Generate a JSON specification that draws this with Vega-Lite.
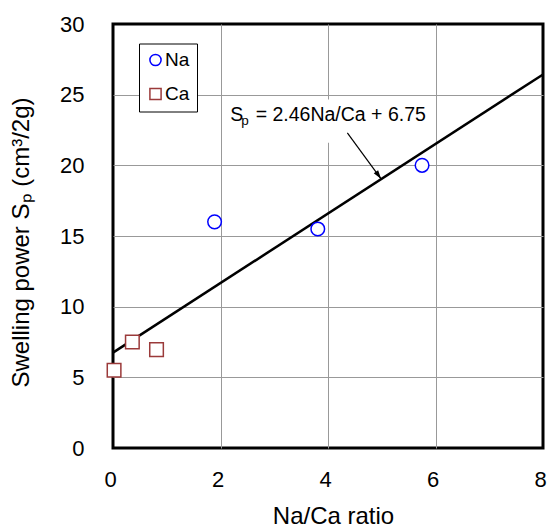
{
  "$schema": "https://vega.github.io/schema/vega-lite/v6.json",
  "width": 430,
  "height": 424,
  "autosize": {"type": "none"},
  "padding": {"left": 113, "top": 24, "right": 5, "bottom": 80},
  "background": "white",
  "config": {
    "font": "Liberation Sans",
    "view": {"stroke": "black", "strokeWidth": 3},
    "legend": {
      "orient": "none",
      "legendX": 26,
      "legendY": 19.5,
      "fillColor": "white",
      "strokeColor": "black",
      "strokeWidth": 1,
      "padding": 7,
      "rowPadding": 14,
      "labelFontSize": 19,
      "labelFont": "Liberation Sans",
      "labelColor": "black",
      "labelOffset": 0,
      "symbolSize": 125,
      "symbolStrokeWidth": 1.5,
      "symbolFillColor": "white"
    }
  },
  "datasets": {
    "points": [
      {"x": 1.89, "y": 16.0, "ion": "Na"},
      {"x": 3.81, "y": 15.5, "ion": "Na"},
      {"x": 5.75, "y": 20.0, "ion": "Na"},
      {"x": 0.02, "y": 5.5, "ion": "Ca"},
      {"x": 0.36, "y": 7.5, "ion": "Ca"},
      {"x": 0.81, "y": 6.96, "ion": "Ca"}
    ],
    "fit": [{"x": 0, "y": 6.75}, {"x": 8, "y": 26.43}],
    "arrow": [{"x": 4.36, "y": 22.29, "x2": 4.99, "y2": 19.03}],
    "tip": [{"x": 4.99, "y": 19.03}],
    "label": [{"x": 2.18, "y": 23.11}],
    "box": [{"x": 2.07, "x2": 5.89, "y": 24.65, "y2": 21.6}],
    "xticks": [
      {"x": 0.5}, {"x": 1}, {"x": 1.5}, {"x": 2}, {"x": 2.5}, {"x": 3}, {"x": 3.5}, {"x": 4},
      {"x": 4.5}, {"x": 5}, {"x": 5.5}, {"x": 6}, {"x": 6.5}, {"x": 7}, {"x": 7.5}
    ],
    "yticks": [
      {"y": 1}, {"y": 2}, {"y": 3}, {"y": 4}, {"y": 5}, {"y": 6}, {"y": 7}, {"y": 8}, {"y": 9}, {"y": 10},
      {"y": 11}, {"y": 12}, {"y": 13}, {"y": 14}, {"y": 15}, {"y": 16}, {"y": 17}, {"y": 18}, {"y": 19}, {"y": 20},
      {"y": 21}, {"y": 22}, {"y": 23}, {"y": 24}, {"y": 25}, {"y": 26}, {"y": 27}, {"y": 28}, {"y": 29}
    ]
  },
  "encoding": {
    "x": {
      "field": "x",
      "type": "quantitative",
      "scale": {"domain": [0, 8], "nice": false, "zero": false},
      "axis": {
        "title": "Na/Ca ratio",
        "values": [0, 2, 4, 6, 8],
        "format": "d",
        "grid": true,
        "gridColor": "#999999",
        "gridWidth": 1,
        "gridOpacity": {"condition": {"test": "datum.value > 0 && datum.value < 8", "value": 1}, "value": 0},
        "ticks": false,
        "domain": false,
        "labelFontSize": 22,
        "labelFont": "Liberation Sans",
        "labelColor": "black",
        "labelPadding": 21,
        "labelOffset": -3,
        "labelFlush": false,
        "labelOverlap": false,
        "titleFontSize": 24,
        "titleFont": "Liberation Sans",
        "titleFontWeight": "normal",
        "titleColor": "black",
        "titleX": 220,
        "titleY": 75.7,
        "titleBaseline": "alphabetic",
        "titleAlign": "center"
      }
    },
    "y": {
      "field": "y",
      "type": "quantitative",
      "scale": {"domain": [0, 30], "nice": false, "zero": false},
      "axis": {
        "title": "Swelling power Sₚ (cm³/2g)",
        "values": [0, 5, 10, 15, 20, 25, 30],
        "format": "d",
        "grid": true,
        "gridColor": "#999999",
        "gridWidth": 1,
        "gridOpacity": {"condition": {"test": "datum.value > 0 && datum.value < 30", "value": 1}, "value": 0},
        "ticks": false,
        "domain": false,
        "labelFontSize": 22,
        "labelFont": "Liberation Sans",
        "labelColor": "black",
        "labelPadding": 29,
        "labelFlush": false,
        "labelOverlap": false,
        "titleFontSize": 24,
        "titleFont": "Liberation Sans",
        "titleFontWeight": "normal",
        "titleColor": "black",
        "titleAngle": -90,
        "titleX": -85,
        "titleY": 218,
        "titleBaseline": "alphabetic",
        "titleAlign": "center"
      }
    }
  },
  "layer": [
    {
      "data": {"name": "box"},
      "mark": {"type": "rect", "fill": "white", "stroke": null},
      "encoding": {"x2": {"field": "x2"}, "y2": {"field": "y2"}}
    },
    {
      "data": {"name": "xticks"},
      "mark": {"type": "rule", "color": "black", "strokeWidth": 1},
      "encoding": {"y": {"datum": 0}, "y2": {"datum": 0.37}}
    },
    {
      "data": {"name": "yticks"},
      "mark": {"type": "rule", "color": "black", "strokeWidth": 1},
      "encoding": {"x": {"datum": 0}, "x2": {"datum": 0.13}}
    },
    {
      "data": {"name": "fit"},
      "mark": {"type": "line", "color": "black", "strokeWidth": 2.5},
      "encoding": {}
    },
    {
      "data": {"name": "arrow"},
      "mark": {"type": "rule", "color": "black", "strokeWidth": 1.2},
      "encoding": {"x2": {"field": "x2"}, "y2": {"field": "y2"}}
    },
    {
      "data": {"name": "tip"},
      "mark": {"type": "point", "shape": "M0,0L-0.6,2L0.6,2Z", "size": 81, "angle": 144, "filled": true, "fill": "black", "opacity": 1, "strokeWidth": 0},
      "encoding": {}
    },
    {
      "data": {"name": "label"},
      "mark": {"type": "text", "text": "S", "fontSize": 19.5, "align": "left", "baseline": "alphabetic", "color": "black", "font": "Liberation Sans"},
      "encoding": {}
    },
    {
      "data": {"name": "label"},
      "mark": {"type": "text", "text": "p", "fontSize": 13.5, "align": "left", "baseline": "alphabetic", "dx": 11, "dy": 3.5, "color": "black", "font": "Liberation Sans"},
      "encoding": {}
    },
    {
      "data": {"name": "label"},
      "mark": {"type": "text", "text": "= 2.46Na/Ca + 6.75", "fontSize": 19.5, "align": "left", "baseline": "alphabetic", "dx": 25.5, "color": "black", "font": "Liberation Sans"},
      "encoding": {}
    },
    {
      "data": {"name": "points"},
      "mark": {"type": "point", "filled": true, "fill": "white", "strokeWidth": 1.5, "size": 185, "opacity": 1},
      "encoding": {
        "stroke": {"field": "ion", "type": "nominal", "scale": {"domain": ["Na", "Ca"], "range": ["#0000ff", "#9b3a3a"]}, "title": null},
        "shape": {"field": "ion", "type": "nominal", "scale": {"domain": ["Na", "Ca"], "range": ["circle", "square"]}, "title": null}
      }
    }
  ]
}
